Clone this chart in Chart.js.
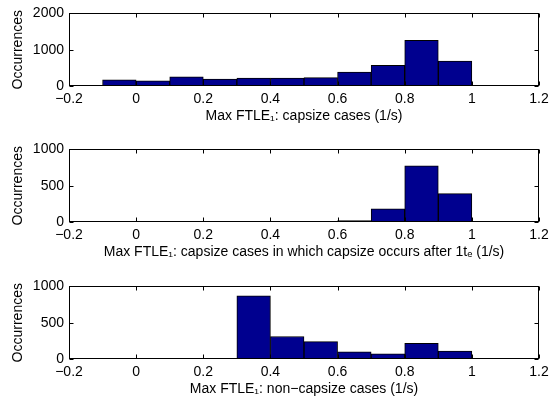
<!DOCTYPE html>
<html>
<head>
<meta charset="utf-8">
<script src="https://cdn.jsdelivr.net/npm/chart.js@4/dist/chart.umd.min.js"></script>
<style>
    html, body { margin: 0; padding: 0; background: #fff; width: 555px; height: 399px; overflow: hidden; }
    .panel { position: absolute; left: 0; width: 555px; height: 133px; }
</style>
</head>
<body>
<div class="panel" style="top:0px"><canvas id="capsize"></canvas></div>
<div class="panel" style="top:136px"><canvas id="late"></canvas></div>
<div class="panel" style="top:273px"><canvas id="noncapsize"></canvas></div>
<script>
// bin centres (bin width 0.1)
const binCenters = [-0.05, 0.05, 0.15, 0.25, 0.35, 0.45, 0.55, 0.65, 0.75, 0.85, 0.95];

// counts per bin
const capsizeCounts = [170, 145, 250, 190, 220, 215, 230, 385, 570, 1255, 685];
const lateCapsizeCounts = [0, 0, 0, 0, 0, 0, 4, 20, 180, 775, 390];
const nonCapsizeCounts = [8, 8, 8, 8, 870, 310, 240, 100, 70, 215, 110];

const xTicks = [-0.2, 0, 0.2, 0.4, 0.6, 0.8, 1, 1.2];
const capsizeYTicks = [0, 1000, 2000];
const smallYTicks = [0, 500, 1000];

const capsizeTitle = 'Max FTLE\u2081: capsize cases (1/s)';
const lateTitle = 'Max FTLE\u2081: capsize cases in which capsize occurs after 1t\u2091 (1/s)';
const nonCapsizeTitle = 'Max FTLE\u2081: non\u2212capsize cases (1/s)';
const yTitle = 'Occurrences';

Chart.defaults.font.family = '"Liberation Sans", Arial, "DejaVu Sans", sans-serif';
Chart.defaults.font.size = 14;
Chart.defaults.color = '#000';

const fmt = v => String(Math.round(v * 10) / 10).replace('-', '\u2212');

// matlab style box with inward ticks
const matlabBox = {
    id: 'matlabBox',
    afterDatasetsDraw(chart) {
        const { ctx, chartArea: a, scales: { x, y } } = chart;
        const L = Math.round(a.left) + 0.5;
        const R = Math.round(a.right) - 0.5;
        const T = Math.round(a.top) + 0.5;
        const B = Math.round(a.bottom) - 0.5;
        ctx.save();
        ctx.strokeStyle = '#000';
        ctx.lineWidth = 1;
        ctx.beginPath();
        x.ticks.forEach(t => {
            const px = Math.round(x.getPixelForValue(t.value)) + 0.5;
            ctx.moveTo(px, B); ctx.lineTo(px, B - 4);
            ctx.moveTo(px, T); ctx.lineTo(px, T + 4);
        });
        y.ticks.forEach(t => {
            const py = Math.round(y.getPixelForValue(t.value)) + 0.5;
            ctx.moveTo(L, py); ctx.lineTo(L + 4, py);
            ctx.moveTo(R, py); ctx.lineTo(R - 4, py);
        });
        ctx.stroke();
        ctx.strokeRect(L, T, R - L, B - T);
        ctx.restore();
    }
};

const createHistogram = (id, counts, yTicks, xTitle) => {
    const data = binCenters.map((c, i) => ({ x: c, y: counts[i] || null }));
    return new Chart(document.getElementById(id), {
        type: 'bar',
        data: {
            datasets: [{
                data: data,
                backgroundColor: '#00008F',
                borderColor: '#000',
                borderWidth: 1,
                borderSkipped: 'start',
                barPercentage: 1,
                categoryPercentage: 1
            }]
        },
        options: {
            responsive: true,
            maintainAspectRatio: false,
            animation: false,
            layout: { padding: { top: 8, right: 16, left: 0, bottom: 0 } },
            plugins: { legend: { display: false }, tooltip: { enabled: false } },
            scales: {
                x: {
                    type: 'linear',
                    min: xTicks[0],
                    max: xTicks[xTicks.length - 1],
                    offset: false,
                    grid: { display: false, drawTicks: false, offset: false },
                    border: { display: false },
                    afterBuildTicks: s => { s.ticks = xTicks.map(v => ({ value: v })); },
                    ticks: { padding: 5, maxRotation: 0, autoSkip: false, callback: fmt },
                    afterFit: s => { s.height = 47; },
                    title: { display: true, text: xTitle, padding: { top: 0, bottom: 8 } }
                },
                y: {
                    min: yTicks[0],
                    max: yTicks[yTicks.length - 1],
                    grid: { display: false, drawTicks: false },
                    border: { display: false },
                    afterBuildTicks: s => { s.ticks = yTicks.map(v => ({ value: v })); },
                    ticks: { padding: 5, callback: v => String(v) },
                    afterFit: s => { s.width = 69; },
                    title: { display: true, text: yTitle, padding: { top: 10, bottom: 0 } }
                }
            }
        },
        plugins: [matlabBox]
    });
};

createHistogram('capsize', capsizeCounts, capsizeYTicks, capsizeTitle);
createHistogram('late', lateCapsizeCounts, smallYTicks, lateTitle);
createHistogram('noncapsize', nonCapsizeCounts, smallYTicks, nonCapsizeTitle);
</script>
</body>
</html>
